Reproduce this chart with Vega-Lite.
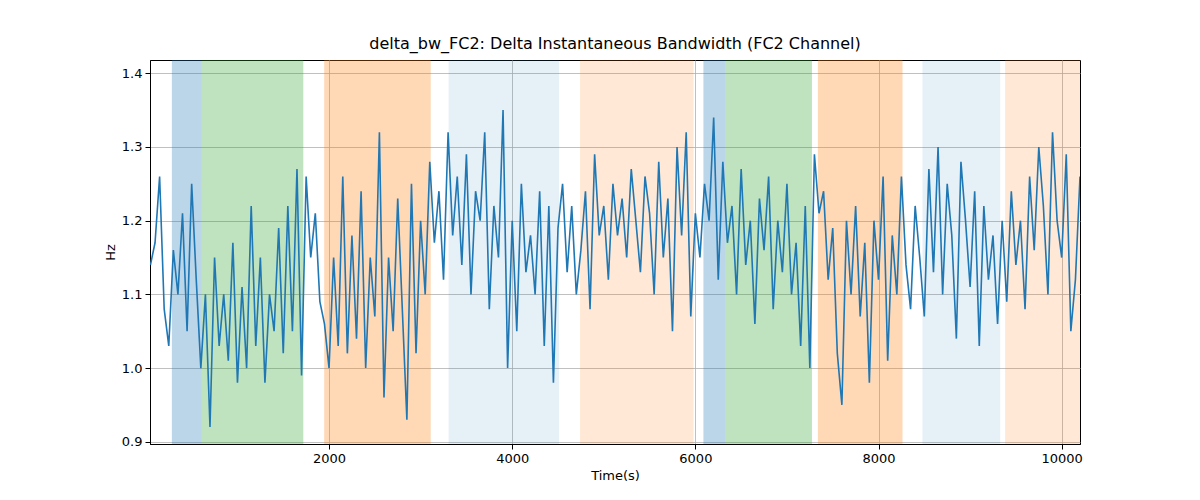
{
"$schema":"https://vega.github.io/schema/vega-lite/v6.json",
"width":930,"height":384,
"autosize":{"type":"none"},
"padding":{"left":150,"top":60,"right":120,"bottom":56},
"background":"white",
"config":{"font":"DejaVu Sans","view":{"stroke":"black","strokeWidth":1},
"axis":{"labelFont":"DejaVu Sans","titleFont":"DejaVu Sans","labelFontSize":13,"titleFontSize":13,"titleFontWeight":"normal","labelColor":"black","titleColor":"black","domainColor":"black","tickColor":"black","gridColor":"#b0b0b0","gridWidth":0.8}},
"title":{"text":"delta_bw_FC2: Delta Instantaneous Bandwidth (FC2 Channel)","font":"DejaVu Sans","fontSize":16,"fontWeight":"normal","offset":8},
"layer":[
{"data":{"values":[
{"s":284,"e":610,"k":"a"},{"s":610,"e":1719,"k":"b"},{"s":1947,"e":3110,"k":"c"},{"s":3306,"e":4512,"k":"d"},{"s":4741,"e":5980,"k":"e"},
{"s":6088,"e":6327,"k":"a"},{"s":6327,"e":7273,"k":"b"},{"s":7338,"e":8262,"k":"c"},{"s":8480,"e":9328,"k":"d"},{"s":9382,"e":10200,"k":"e"}]},
"mark":{"type":"rect","opacity":1},
"encoding":{"x":{"field":"s","type":"quantitative"},"x2":{"field":"e"},
"color":{"field":"k","type":"nominal","legend":null,"scale":{"domain":["a","b","c","d","e"],"range":["rgba(31,119,180,0.3)","rgba(44,160,44,0.3)","rgba(255,127,14,0.3)","rgba(31,119,180,0.11)","rgba(255,127,14,0.17)"]}}}},
{"data":{"values":[
{"t":50,"v":1.14},{"t":100,"v":1.17},{"t":150,"v":1.26},{"t":200,"v":1.08},{"t":250,"v":1.03},{"t":300,"v":1.16},{"t":350,"v":1.10},{"t":400,"v":1.21},{"t":450,"v":1.05},{"t":500,"v":1.25},{"t":550,"v":1.12},{"t":600,"v":1.00},{"t":650,"v":1.10},{"t":700,"v":0.92},{"t":750,"v":1.15},{"t":800,"v":1.03},{"t":850,"v":1.10},{"t":900,"v":1.01},{"t":950,"v":1.17},{"t":1000,"v":0.98},{"t":1050,"v":1.11},{"t":1100,"v":1.00},{"t":1150,"v":1.22},{"t":1200,"v":1.03},{"t":1250,"v":1.15},{"t":1300,"v":0.98},{"t":1350,"v":1.10},{"t":1400,"v":1.05},{"t":1450,"v":1.19},{"t":1500,"v":1.02},{"t":1550,"v":1.22},{"t":1600,"v":1.05},{"t":1650,"v":1.27},{"t":1700,"v":0.99},{"t":1750,"v":1.26},{"t":1800,"v":1.15},{"t":1850,"v":1.21},{"t":1900,"v":1.09},{"t":1950,"v":1.06},{"t":2000,"v":1.00},{"t":2050,"v":1.15},{"t":2100,"v":1.03},{"t":2150,"v":1.26},{"t":2200,"v":1.02},{"t":2250,"v":1.18},{"t":2300,"v":1.04},{"t":2350,"v":1.24},{"t":2400,"v":1.00},{"t":2450,"v":1.15},{"t":2500,"v":1.07},{"t":2550,"v":1.32},{"t":2600,"v":0.96},{"t":2650,"v":1.15},{"t":2700,"v":1.05},{"t":2750,"v":1.23},{"t":2800,"v":1.08},{"t":2850,"v":0.93},{"t":2900,"v":1.25},{"t":2950,"v":1.02},{"t":3000,"v":1.20},{"t":3050,"v":1.10},{"t":3100,"v":1.28},{"t":3150,"v":1.17},{"t":3200,"v":1.24},{"t":3250,"v":1.12},{"t":3300,"v":1.32},{"t":3350,"v":1.18},{"t":3400,"v":1.26},{"t":3450,"v":1.14},{"t":3500,"v":1.29},{"t":3550,"v":1.10},{"t":3600,"v":1.24},{"t":3650,"v":1.20},{"t":3700,"v":1.32},{"t":3750,"v":1.08},{"t":3800,"v":1.22},{"t":3850,"v":1.15},{"t":3900,"v":1.35},{"t":3950,"v":1.00},{"t":4000,"v":1.20},{"t":4050,"v":1.05},{"t":4100,"v":1.25},{"t":4150,"v":1.13},{"t":4200,"v":1.18},{"t":4250,"v":1.10},{"t":4300,"v":1.24},{"t":4350,"v":1.03},{"t":4400,"v":1.22},{"t":4450,"v":0.98},{"t":4500,"v":1.19},{"t":4550,"v":1.25},{"t":4600,"v":1.13},{"t":4650,"v":1.22},{"t":4700,"v":1.10},{"t":4750,"v":1.16},{"t":4800,"v":1.24},{"t":4850,"v":1.08},{"t":4900,"v":1.29},{"t":4950,"v":1.18},{"t":5000,"v":1.22},{"t":5050,"v":1.12},{"t":5100,"v":1.25},{"t":5150,"v":1.18},{"t":5200,"v":1.23},{"t":5250,"v":1.15},{"t":5300,"v":1.27},{"t":5350,"v":1.20},{"t":5400,"v":1.13},{"t":5450,"v":1.26},{"t":5500,"v":1.21},{"t":5550,"v":1.10},{"t":5600,"v":1.28},{"t":5650,"v":1.15},{"t":5700,"v":1.23},{"t":5750,"v":1.05},{"t":5800,"v":1.30},{"t":5850,"v":1.18},{"t":5900,"v":1.32},{"t":5950,"v":1.07},{"t":6000,"v":1.21},{"t":6050,"v":1.15},{"t":6100,"v":1.25},{"t":6150,"v":1.20},{"t":6200,"v":1.34},{"t":6250,"v":1.12},{"t":6300,"v":1.28},{"t":6350,"v":1.17},{"t":6400,"v":1.22},{"t":6450,"v":1.10},{"t":6500,"v":1.27},{"t":6550,"v":1.14},{"t":6600,"v":1.20},{"t":6650,"v":1.06},{"t":6700,"v":1.23},{"t":6750,"v":1.16},{"t":6800,"v":1.26},{"t":6850,"v":1.08},{"t":6900,"v":1.20},{"t":6950,"v":1.13},{"t":7000,"v":1.25},{"t":7050,"v":1.10},{"t":7100,"v":1.17},{"t":7150,"v":1.03},{"t":7200,"v":1.22},{"t":7250,"v":1.00},{"t":7300,"v":1.29},{"t":7350,"v":1.21},{"t":7400,"v":1.24},{"t":7450,"v":1.12},{"t":7500,"v":1.19},{"t":7550,"v":1.02},{"t":7600,"v":0.95},{"t":7650,"v":1.20},{"t":7700,"v":1.10},{"t":7750,"v":1.22},{"t":7800,"v":1.07},{"t":7850,"v":1.17},{"t":7900,"v":0.98},{"t":7950,"v":1.20},{"t":8000,"v":1.12},{"t":8050,"v":1.26},{"t":8100,"v":1.01},{"t":8150,"v":1.18},{"t":8200,"v":1.10},{"t":8250,"v":1.26},{"t":8300,"v":1.14},{"t":8350,"v":1.08},{"t":8400,"v":1.22},{"t":8450,"v":1.15},{"t":8500,"v":1.07},{"t":8550,"v":1.27},{"t":8600,"v":1.13},{"t":8650,"v":1.30},{"t":8700,"v":1.10},{"t":8750,"v":1.25},{"t":8800,"v":1.18},{"t":8850,"v":1.04},{"t":8900,"v":1.28},{"t":8950,"v":1.20},{"t":9000,"v":1.11},{"t":9050,"v":1.24},{"t":9100,"v":1.03},{"t":9150,"v":1.22},{"t":9200,"v":1.12},{"t":9250,"v":1.18},{"t":9300,"v":1.06},{"t":9350,"v":1.20},{"t":9400,"v":1.09},{"t":9450,"v":1.24},{"t":9500,"v":1.14},{"t":9550,"v":1.20},{"t":9600,"v":1.08},{"t":9650,"v":1.26},{"t":9700,"v":1.16},{"t":9750,"v":1.30},{"t":9800,"v":1.22},{"t":9850,"v":1.10},{"t":9900,"v":1.32},{"t":9950,"v":1.20},{"t":10000,"v":1.15},{"t":10050,"v":1.29},{"t":10100,"v":1.05},{"t":10150,"v":1.12},{"t":10200,"v":1.26}]},
"mark":{"type":"line","color":"#1f77b4","strokeWidth":1.6,"clip":true},
"encoding":{"x":{"field":"t","type":"quantitative","title":"Time(s)","scale":{"domain":[45,10200],"nice":false,"zero":false},"axis":{"values":[2000,4000,6000,8000,10000],"format":"d","grid":true,"tickSize":5,"labelPadding":3}},
"y":{"field":"v","type":"quantitative","title":"Hz","scale":{"domain":[0.897,1.418],"nice":false,"zero":false},"axis":{"values":[0.9,1.0,1.1,1.2,1.3,1.4],"format":".1f","grid":true,"tickSize":5,"labelPadding":3}}}}
]}
